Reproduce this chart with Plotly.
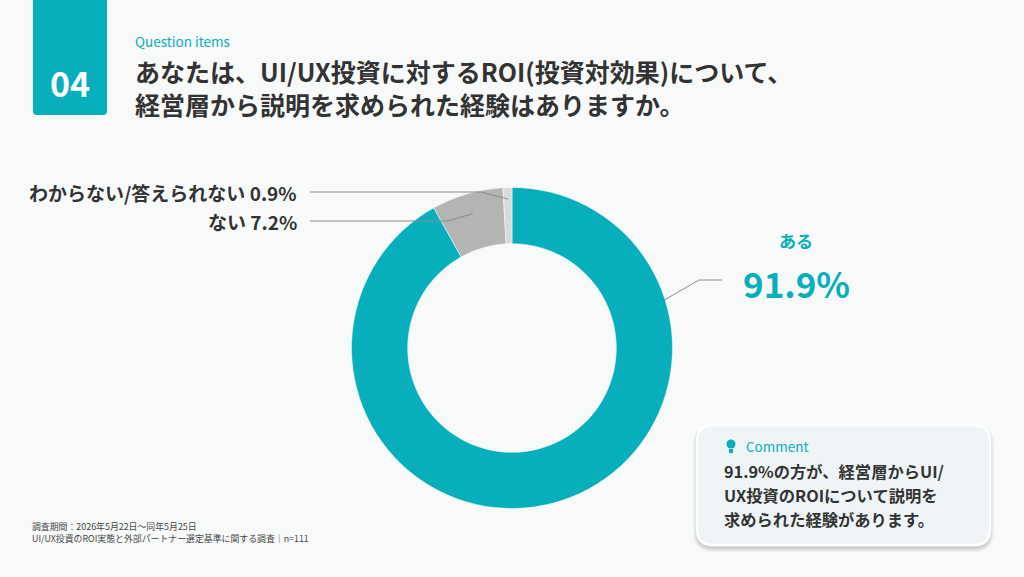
import math
import plotly.graph_objects as go

W, H = 1024, 577

# data
labels = ["ある", "ない", "わからない/答えられない"]
values = [91.9, 7.2, 0.9]
colors = ["#07AEBB", "#B4B4B4", "#DADADA"]

title_lines = ["あなたは、UI/UX投資に対するROI(投資対効果)について、",
               "経営層から説明を求められた経験はありますか。"]
footer_lines = ["調査期間：2026年5月22日～同年5月25日",
                "UI/UX投資のROI実態と外部パートナー選定基準に関する調査｜n=111"]
comment_lines = ["91.9%の方が、経営層からUI/",
                 "UX投資のROIについて説明を",
                 "求められた経験があります。"]

TEAL = "#07AEBB"
DARK = "#333333"
BG = "#F8FAFA"
FONT = "Noto Sans CJK JP"

# pie geometry in px
cx, cy, R = 512, 348, 160.5


def px(x, y):
    return x / W, 1 - y / H


x0, y0 = px(cx - R, cy + R)
x1, y1 = px(cx + R, cy - R)

fig = go.Figure(go.Pie(
    labels=labels, values=values, sort=False, direction="clockwise", rotation=0,
    hole=0.65, marker=dict(colors=colors, line=dict(color="white", width=0.5)),
    textinfo="none", hoverinfo="label+percent", showlegend=False,
    domain=dict(x=[x0, x1], y=[y0, y1]),
))

shapes = []
annotations = []


def line(xa, ya, xb, yb, color="#8A8A8A", width=1):
    a = px(xa, ya)
    b = px(xb, yb)
    shapes.append(dict(type="line", xref="paper", yref="paper", x0=a[0], y0=a[1],
                       x1=b[0], y1=b[1], line=dict(color=color, width=width)))


def text(x, y, s, size, color=DARK, xanchor="left", bold=False):
    a = px(x, y)
    annotations.append(dict(x=a[0], y=a[1], xref="paper", yref="paper",
                            text=f"<b>{s}</b>" if bold else s, showarrow=False,
                            xanchor=xanchor, yanchor="middle", align="left",
                            font=dict(family=FONT, size=size, color=color)))


def rpath(l, t, r, b, rad, top=True):
    # rounded rectangle path in px -> paper
    def p(x, y):
        a = px(x, y)
        return f"{a[0]:.5f},{a[1]:.5f}"
    if top:
        d = (f"M {p(l + rad, t)} L {p(r - rad, t)} Q {p(r, t)} {p(r, t + rad)} "
             f"L {p(r, b - rad)} Q {p(r, b)} {p(r - rad, b)} L {p(l + rad, b)} "
             f"Q {p(l, b)} {p(l, b - rad)} L {p(l, t + rad)} Q {p(l, t)} {p(l + rad, t)} Z")
    else:
        d = (f"M {p(l, t)} L {p(r, t)} L {p(r, b - rad)} Q {p(r, b)} {p(r - rad, b)} "
             f"L {p(l + rad, b)} Q {p(l, b)} {p(l, b - rad)} Z")
    return d


# leader lines for the small slices, from slice mid-angles
cum = 0
mids = []
for v in values:
    mids.append((cum + v / 2) / sum(values) * 2 * math.pi)
    cum += v

label_y = {1: 221, 2: 192}
radius_at = {1: 140, 2: 149}
elbow_x = {1: 448, 2: 481}
for i in (1, 2):
    r = radius_at[i]
    sx = cx + r * math.sin(mids[i])
    sy = cy - r * math.cos(mids[i])
    line(sx, sy, elbow_x[i], label_y[i])
    line(elbow_x[i], label_y[i], 310, label_y[i])
    text(299, label_y[i], f"{labels[i]} {values[i]}%", 19, bold=True, xanchor="right")

# leader for the main slice
ang = math.radians(72)
line(cx + R * math.sin(ang) - 1, cy - R * math.cos(ang) + 2, 699, 280)
line(699, 280, 722, 280)
text(796, 240, labels[0], 17, color=TEAL, bold=True, xanchor="center")
text(796, 282, f"{values[0]}%", 35, color=TEAL, bold=True, xanchor="center")

# header
shapes.append(dict(type="path", xref="paper", yref="paper", path=rpath(33, -5, 107, 115, 4, top=False),
                   fillcolor=TEAL, line=dict(width=0)))
text(70, 82, "04", 34, color="white", bold=True, xanchor="center")
text(133, 41, "Question items", 13.5, color=TEAL)
text(133, 87, "<br>".join(title_lines), 25, bold=True)

# footer
text(30, 532.5, "<br>".join(footer_lines), 8.9, color="#444444")

# comment box with soft shadow
for k, op in enumerate([0.03, 0.035, 0.045, 0.05]):
    g = 4 - k
    shapes.append(dict(type="path", xref="paper", yref="paper",
                       path=rpath(697 - g, 425 - g + 3, 990 + g, 545 + g + 3, 16 + g),
                       fillcolor="rgba(0,0,0,%.3f)" % op, line=dict(width=0)))
shapes.append(dict(type="path", xref="paper", yref="paper", path=rpath(697, 425, 990, 545, 16),
                   fillcolor="#EFF5F6", line=dict(color="white", width=2.5)))
# lightbulb icon
bx, by = px(731, 444)
shapes.append(dict(type="circle", xref="paper", yref="paper",
                   x0=bx - 4.5 / W, x1=bx + 4.5 / W, y0=by - 4.5 / H, y1=by + 4.5 / H,
                   fillcolor=TEAL, line=dict(width=0)))
a, b = px(729, 449), px(733, 453)
shapes.append(dict(type="rect", xref="paper", yref="paper", x0=a[0], y0=a[1], x1=b[0], y1=b[1],
                   fillcolor=TEAL, line=dict(width=0)))
text(744, 446, "Comment", 13.5, color=TEAL)
for j, s in enumerate(comment_lines):
    text(722, 471 + j * 24, s, 16.3, bold=True)

fig.update_layout(
    width=W, height=H, margin=dict(l=0, r=0, t=0, b=0),
    paper_bgcolor=BG, plot_bgcolor=BG,
    shapes=shapes, annotations=annotations,
    font=dict(family=FONT),
)
fig.write_html("out.html", config={"displayModeBar": False},
               post_script="document.body.style.margin='0';document.body.style.background='%s';" % BG)
